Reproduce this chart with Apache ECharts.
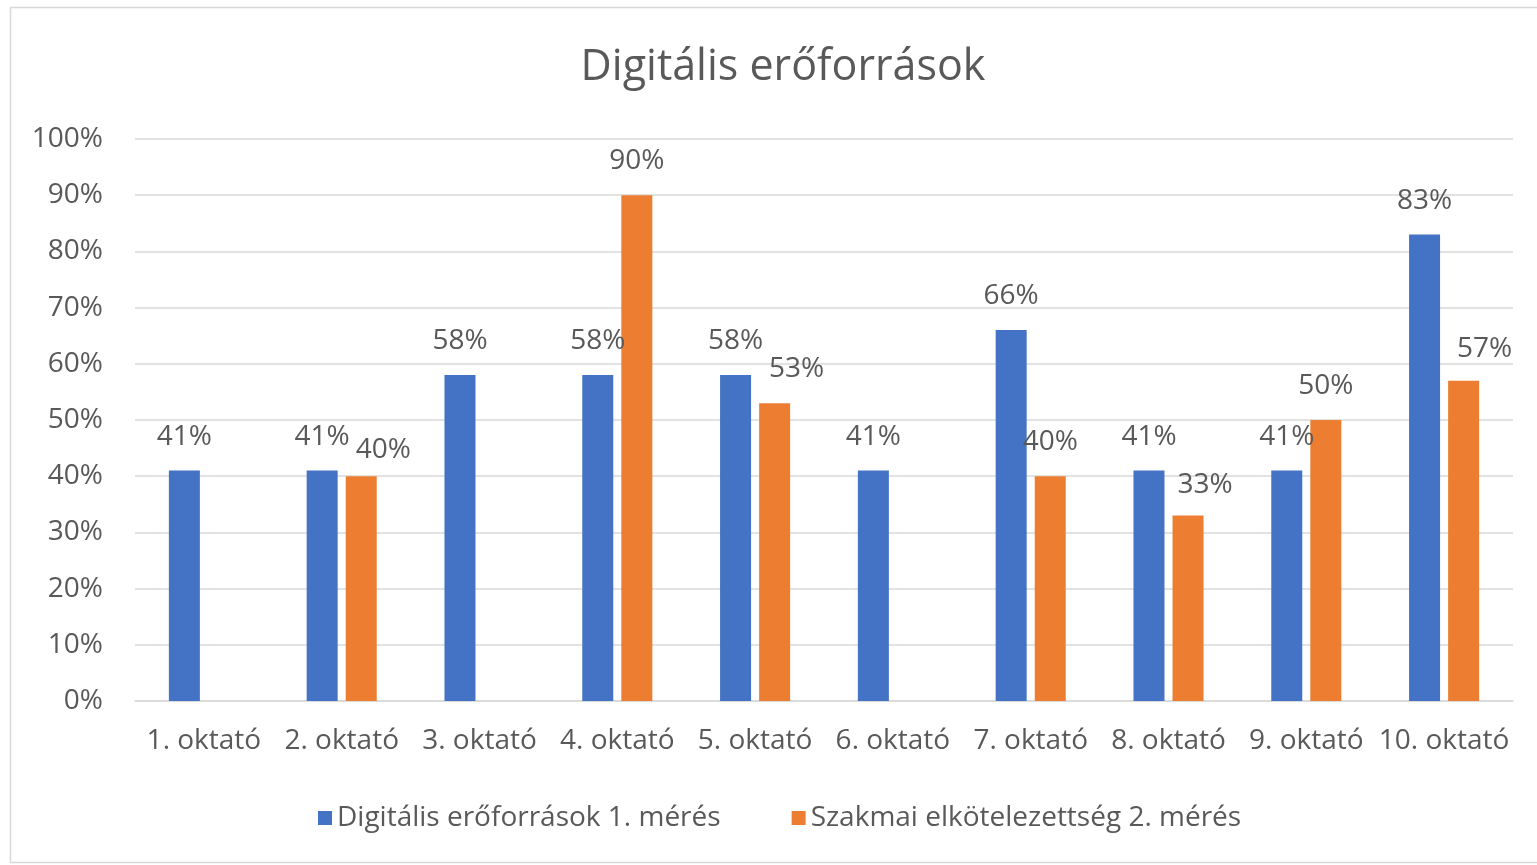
<!DOCTYPE html>
<html>
<head>
<meta charset="utf-8">
<title>Digitális erőforrások</title>
<script src="https://cdn.jsdelivr.net/npm/echarts@6/dist/echarts.min.js"></script>
<style>
  html, body { margin: 0; padding: 0; background: #fff; }
  #chart { width: 1537px; height: 865px; }
</style>
</head>
<body>
<div id="chart"></div>
<script>
// adatok
var categories = ['1. oktató', '2. oktató', '3. oktató', '4. oktató', '5. oktató',
  '6. oktató', '7. oktató', '8. oktató', '9. oktató', '10. oktató']
var seriesNames = ['Digitális erőforrások 1. mérés', 'Szakmai elkötelezettség 2. mérés']
var meres1 = [41, 41, 58, 58, 58, 41, 66, 41, 41, 83]
var meres2 = [null, 40, null, 90, 53, null, 40, 33, 50, 57]
var yTicks = [0, 10, 20, 30, 40, 50, 60, 70, 80, 90, 100]

// Excel-féle címke eltolások a 2. sorozatnál (csak stílus)
var labelShift2 = [null, [22, 8], null, [0, 0], [22, 0], null, [0, 0], [17, 3], [0, 0], [21, 2]]

var textColor = '#595959'
var font = '"Open Sans", Lato, sans-serif'
var fs = 28

var chart = echarts.init(document.getElementById('chart'))

var data2 = meres2.map(function (v, i) {
  if (v === null) return '-'
  return { value: v, label: { offset: labelShift2[i] } }
})

chart.setOption({
  animation: false,
  textStyle: { fontFamily: font },
  graphic: [{
    type: 'rect',
    shape: { x: 10.5, y: 7.5, width: 1560, height: 855 },
    style: { fill: 'none', stroke: '#d9d9d9', lineWidth: 1.5 },
    silent: true
  }],
  title: {
    text: 'Digitális erőforrások',
    left: 778,
    textAlign: 'center',
    top: 41,
    textStyle: { color: textColor, fontSize: 43, fontWeight: 'normal', fontFamily: font }
  },
  legend: {
    left: 313,
    top: 799,
    itemWidth: 14,
    itemHeight: 14,
    itemGap: 71,
    icon: 'rect',
    textStyle: { color: textColor, fontSize: fs, fontFamily: font },
    data: seriesNames
  },
  grid: { left: 135, right: 24, top: 139, bottom: 164 },
  xAxis: {
    type: 'category',
    data: categories,
    axisTick: { show: false },
    axisLine: { lineStyle: { color: '#d9d9d9', width: 1.5 } },
    axisLabel: { color: textColor, fontSize: fs, margin: 26, interval: 0, fontFamily: font }
  },
  yAxis: {
    type: 'value',
    min: yTicks[0],
    max: yTicks[yTicks.length - 1],
    interval: 10,
    axisLine: { show: false },
    axisTick: { show: false },
    splitLine: { lineStyle: { color: '#d9d9d9', width: 1.5 } },
    axisLabel: { color: textColor, fontSize: fs, margin: 32, formatter: '{value}%', fontFamily: font }
  },
  series: [
    {
      name: seriesNames[0],
      type: 'bar',
      data: meres1,
      barWidth: 31,
      barGap: '26%',
      itemStyle: { color: '#4472C4' },
      label: {
        show: true, position: 'top', distance: 20, formatter: '{c}%',
        color: textColor, fontSize: fs, fontFamily: font
      }
    },
    {
      name: seriesNames[1],
      type: 'bar',
      data: data2,
      barWidth: 31,
      barGap: '26%',
      itemStyle: { color: '#ED7D31' },
      label: {
        show: true, position: 'top', distance: 20, formatter: '{c}%',
        color: textColor, fontSize: fs, fontFamily: font
      }
    }
  ]
})
</script>
</body>
</html>
